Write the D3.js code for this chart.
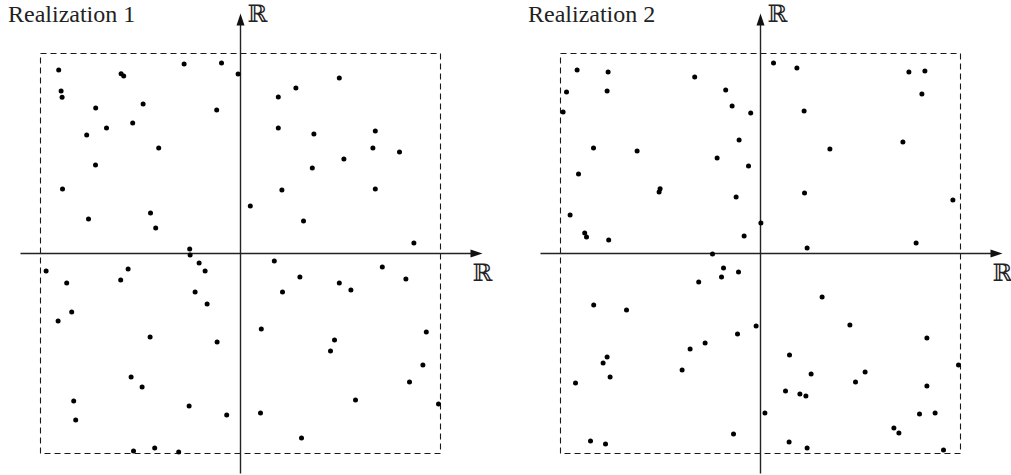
<!DOCTYPE html>
<meta charset="utf-8">
<head>
	<title>Realizations</title>
	<script src="https://cdn.jsdelivr.net/npm/d3@7/dist/d3.min.js"></script>
	<style>
		body { margin: 0; background: #fff; }
	</style>
</head>
<body>
<div id="chart"></div>
<script>
	// panel titles
	var titles = ["Realization 1", "Realization 2"];

	// points, box is [-1,1] x [-1,1]
	var realization1 = [
		[-0.909, 0.918], [-0.282, 0.948], [-0.095, 0.953], [-0.012, 0.898], [-0.597, 0.899],
		[-0.584, 0.888], [-0.897, 0.813], [-0.892, 0.781], [-0.724, 0.728], [-0.487, 0.748],
		[-0.119, 0.718], [-0.670, 0.628], [-0.539, 0.653], [-0.769, 0.593], [-0.409, 0.528],
		[-0.725, 0.443], [-0.890, 0.323], [-0.760, 0.173], [-0.450, 0.203], [-0.424, 0.128],
		[-0.254, 0.023], [0.049, 0.238], [0.494, 0.878], [0.277, 0.828], [0.189, 0.783],
		[0.189, 0.628], [0.367, 0.598], [0.674, 0.613], [0.662, 0.528], [0.795, 0.508],
		[0.517, 0.473], [0.359, 0.428], [0.207, 0.318], [0.674, 0.323], [0.315, 0.163],
		[0.867, 0.053], [-0.252, -0.008], [-0.207, -0.048], [-0.177, -0.088], [-0.972, -0.088],
		[-0.562, -0.078], [-0.599, -0.133], [-0.869, -0.148], [-0.227, -0.193], [-0.167, -0.253],
		[-0.844, -0.293], [-0.912, -0.338], [-0.452, -0.418], [-0.117, -0.443], [-0.547, -0.618],
		[-0.492, -0.668], [-0.834, -0.738], [-0.824, -0.833], [-0.257, -0.763], [-0.069, -0.808],
		[-0.535, -0.988], [-0.429, -0.973], [-0.309, -0.993], [0.169, -0.038], [0.709, -0.068],
		[0.297, -0.118], [0.827, -0.128], [0.494, -0.148], [0.210, -0.193], [0.552, -0.183],
		[0.104, -0.378], [0.929, -0.393], [0.470, -0.433], [0.450, -0.488], [0.912, -0.558],
		[0.845, -0.643], [0.575, -0.733], [0.990, -0.753], [0.100, -0.798], [0.305, -0.923]
	];

	var realization2 = [
		[-0.917, 0.918], [-0.762, 0.908], [-0.970, 0.808], [-0.767, 0.813], [-0.987, 0.708],
		[-0.329, 0.883], [-0.174, 0.818], [-0.142, 0.738], [-0.049, 0.703], [-0.107, 0.568],
		[-0.835, 0.528], [-0.617, 0.513], [-0.217, 0.478], [-0.060, 0.438], [-0.910, 0.398],
		[-0.502, 0.324], [-0.507, 0.308], [-0.122, 0.283], [-0.952, 0.193], [-0.879, 0.103],
		[-0.870, 0.083], [-0.759, 0.068], [-0.082, 0.088], [0.002, 0.153], [0.065, 0.953],
		[0.182, 0.928], [0.742, 0.908], [0.822, 0.913], [0.807, 0.798], [0.218, 0.713],
		[0.347, 0.523], [0.712, 0.558], [0.220, 0.303], [0.962, 0.268], [0.778, 0.053],
		[0.233, 0.028], [-0.240, -0.003], [-0.185, -0.073], [-0.195, -0.118], [-0.110, -0.093],
		[-0.309, -0.143], [-0.834, -0.258], [-0.670, -0.283], [-0.022, -0.363], [-0.115, -0.403],
		[-0.277, -0.448], [-0.352, -0.478], [-0.767, -0.518], [-0.787, -0.548], [-0.752, -0.618],
		[-0.392, -0.583], [-0.925, -0.648], [0.022, -0.798], [-0.135, -0.903], [-0.850, -0.938],
		[-0.775, -0.953], [0.308, -0.218], [0.447, -0.358], [0.832, -0.423], [0.145, -0.508],
		[0.990, -0.558], [0.253, -0.603], [0.523, -0.593], [0.475, -0.643], [0.125, -0.688],
		[0.197, -0.703], [0.227, -0.713], [0.832, -0.663], [0.795, -0.803], [0.873, -0.798],
		[0.667, -0.873], [0.692, -0.898], [0.143, -0.943], [0.233, -0.973], [0.915, -0.983]
	];

	// axis extents in data units
	var axisX = [-1.1, 1.21];
	var axisY = [-1.1, 1.2];

	var width = 1011, height = 475;

	var svg = d3.select("#chart").append("svg")
		.attr("width", width)
		.attr("height", height);

	var panels = [
		{ title: titles[0], pts: realization1, off: 0 },
		{ title: titles[1], pts: realization2, off: 520 }
	];

	panels.forEach(function(p) {
		var x = d3.scaleLinear().domain([-1, 1]).range([40.5 + p.off, 440.5 + p.off]);
		var y = d3.scaleLinear().domain([-1, 1]).range([453.5, 53.5]);
		var g = svg.append("g");

		// dashed box
		g.append("rect")
			.attr("x", x(-1)).attr("y", y(1))
			.attr("width", x(1) - x(-1)).attr("height", y(-1) - y(1))
			.attr("fill", "none")
			.attr("stroke", "#1a1a1a")
			.attr("stroke-width", 1.1)
			.attr("stroke-dasharray", "6,4");

		// axes
		g.append("line")
			.attr("x1", x(axisX[0])).attr("x2", x(axisX[1]) - 6)
			.attr("y1", y(0)).attr("y2", y(0))
			.attr("stroke", "#222").attr("stroke-width", 1.4);
		g.append("line")
			.attr("x1", x(0)).attr("x2", x(0))
			.attr("y1", y(axisY[0])).attr("y2", y(axisY[1]) + 6)
			.attr("stroke", "#222").attr("stroke-width", 1.4);

		// arrowheads
		var hx = x(axisX[1]), hy = y(0);
		g.append("path")
			.attr("d", "M" + hx + "," + hy + "L" + (hx - 12) + "," + (hy - 4) + "L" + (hx - 12) + "," + (hy + 4) + "Z")
			.attr("fill", "#111");
		var vx = x(0), vy = y(axisY[1]);
		g.append("path")
			.attr("d", "M" + vx + "," + vy + "L" + (vx - 4) + "," + (vy + 12) + "L" + (vx + 4) + "," + (vy + 12) + "Z")
			.attr("fill", "#111");

		// axis labels
		g.append("text")
			.attr("font-family", "DejaVu Serif")
			.attr("font-size", 24).attr("fill", "#222")
			.attr("x", x(0) + 7).attr("y", 22)
			.text("\u211D");
		g.append("text")
			.attr("font-family", "DejaVu Serif")
			.attr("font-size", 24).attr("fill", "#222")
			.attr("x", x(axisX[1]) - 10).attr("y", 281)
			.text("\u211D");

		// title
		g.append("text")
			.attr("font-family", "Liberation Serif, DejaVu Serif, serif")
			.attr("font-size", 24).attr("fill", "#222")
			.attr("x", 8 + p.off).attr("y", 22)
			.text(p.title);

		// points
		g.selectAll("circle")
			.data(p.pts)
			.enter().append("circle")
			.attr("cx", function(d) { return x(d[0]); })
			.attr("cy", function(d) { return y(d[1]); })
			.attr("r", 2.5)
			.attr("fill", "#000");
	});
</script>
</body>
